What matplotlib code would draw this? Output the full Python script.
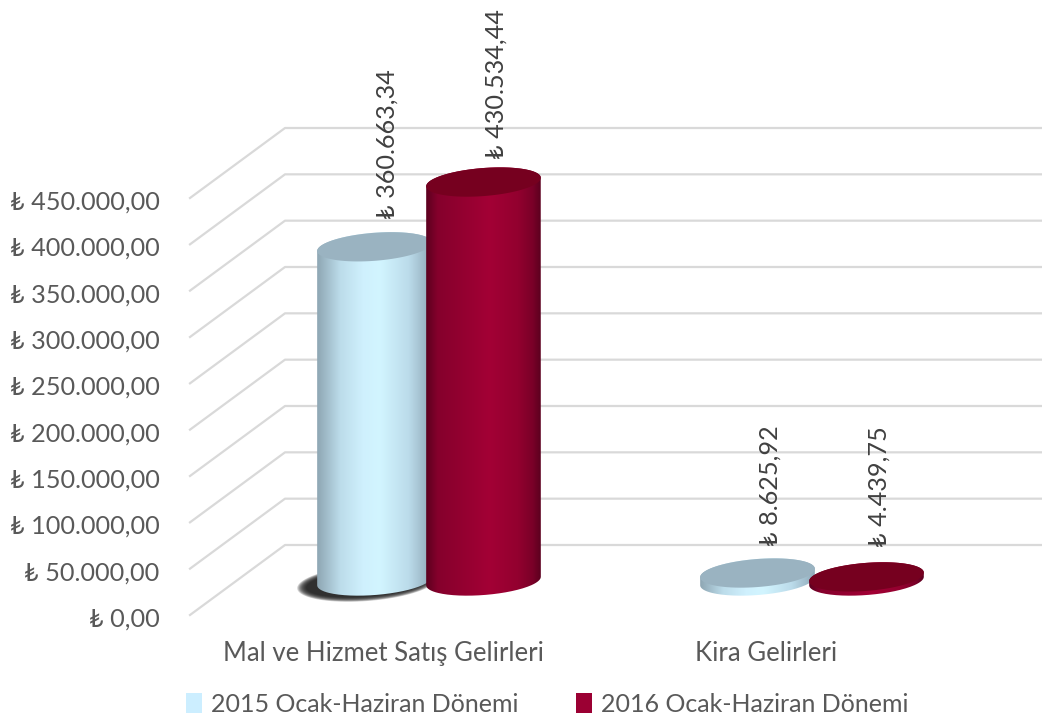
#!/usr/bin/env python3
# -*- coding: utf-8 -*-
import numpy as np
from matplotlib import pyplot as plt
from matplotlib.colors import LinearSegmentedColormap
from matplotlib.patches import Patch, PathPatch
from matplotlib.path import Path
from matplotlib.transforms import ScaledTranslation

plt.rcParams['font.family'] = ['Lato', 'DejaVu Sans']

categories = ['Mal ve Hizmet Satış Gelirleri', 'Kira Gelirleri']
series_names = ['2015 Ocak-Haziran Dönemi', '2016 Ocak-Haziran Dönemi']
values_2015 = [360663.34, 8625.92]
values_2016 = [430534.44, 4439.75]
label_2015 = ['₺ 360.663,34', '₺ 8.625,92']
label_2016 = ['₺ 430.534,44', '₺ 4.439,75']
yticks = [0, 50000, 100000, 150000, 200000, 250000, 300000, 350000, 400000, 450000]
yticklabels = ['₺ 0,00', '₺ 50.000,00', '₺ 100.000,00', '₺ 150.000,00', '₺ 200.000,00',
               '₺ 250.000,00', '₺ 300.000,00', '₺ 350.000,00', '₺ 400.000,00', '₺ 450.000,00']

W, H = 1042, 714
ax_left, ax_base = 165, 615     # pixels
px_per_cat = 383.0
px_per_val = 417.0 / 450000
cat0_px = 383.0

text_col = '#595959'
grid_col = '#D9D9D9'

# 3d look, in pixels
wall_dx, wall_dy = 95, 70
base_dy = 34
half_w, half_h = 57.5, 14.0
tilt = np.deg2rad(4.5)
bar_off = [-8.5, 100.5]
gap_2015 = [28, 27]     # label distance over the bar top
gap_2016 = [23, 30]

cmap_2015 = LinearSegmentedColormap.from_list('c15', [(0, '#8EA6B3'), (0.2, '#BCDCEA'), (0.4, '#CFF0FD'),
                                                      (0.55, '#D2F5FF'), (0.8, '#BBDBEA'), (1, '#8FA9B8')])
cmap_2016 = LinearSegmentedColormap.from_list('c16', [(0, '#5C001F'), (0.1, '#85002C'), (0.55, '#A30035'),
                                                      (0.8, '#93002F'), (0.93, '#7A0028'), (1, '#5C001F')])
top_cols = ['#9AB3C1', '#76001F']
legend_cols = ['#CCEEFF', '#9B0033']

fig = plt.figure(figsize=(W / 100, H / 100), dpi=100)
ax = fig.add_axes([ax_left / W, (H - ax_base) / H, (W - ax_left) / W, ax_base / H])
ax.set_xlim((ax_left - cat0_px) / px_per_cat, (W - cat0_px) / px_per_cat)
ax.set_ylim(0, ax_base / px_per_val)


def ellipse(xc, yc, a, b, t0, t1, rot=tilt):
    # xc in category units, yc in value units, a and b in pixels
    t = np.linspace(t0, t1, 80)
    dx = a * np.cos(t) * np.cos(rot) - b * np.sin(t) * np.sin(rot)
    dy = a * np.cos(t) * np.sin(rot) + b * np.sin(t) * np.cos(rot)
    return xc + dx / px_per_cat, yc + dy / px_per_val


def cylinder(xc, value, cmap, top_col):
    y0 = base_dy / px_per_val
    y1 = y0 + value
    xb, yb = ellipse(xc, y0, half_w, half_h, np.pi, 2 * np.pi)
    xt, yt = ellipse(xc, y1, half_w, half_h, 0, np.pi)
    side = Path(np.column_stack([np.r_[xb, xt], np.r_[yb, yt]]))
    patch = PathPatch(side, fc='none', ec='none', transform=ax.transData)
    ax.add_patch(patch)
    grad = np.linspace(0, 1, 256).reshape(1, -1)
    im = ax.imshow(grad, cmap=cmap, aspect='auto', zorder=3,
                   extent=(xc - half_w / px_per_cat, xc + half_w / px_per_cat, y0 - 20 / px_per_val, y1 + 20 / px_per_val))
    im.set_clip_path(patch)
    xe, ye = ellipse(xc, y1, half_w, half_h, 0, 2 * np.pi)
    ax.fill(xe, ye, color=top_col, lw=0, zorder=3)


# walls and grid lines
for v in yticks:
    xs = [(190 - cat0_px) / px_per_cat, (190 + wall_dx - cat0_px) / px_per_cat, (W - cat0_px) / px_per_cat]
    ys = [v, v + wall_dy / px_per_val, v + wall_dy / px_per_val]
    ax.plot(xs, ys, color=grid_col, lw=1.6, zorder=1, clip_on=False, solid_joinstyle='round')

# shadow under the first bar
for k in range(10):
    xs_, ys_ = ellipse(-16 / px_per_cat, 32 / px_per_val, 70 - k * 1.0, 18 - k * 0.5, 0, 2 * np.pi)
    ax.fill(xs_, ys_, color='#1A1A1A', alpha=0.2, lw=0, zorder=2)

for i in range(len(categories)):
    for off, val, cmap, tc in [(bar_off[0], values_2015[i], cmap_2015, top_cols[0]),
                               (bar_off[1], values_2016[i], cmap_2016, top_cols[1])]:
        cylinder(i + off / px_per_cat, val, cmap, tc)
    for off, val, lab, gap in [(bar_off[0], values_2015[i], label_2015[i], gap_2015[i]),
                               (bar_off[1], values_2016[i], label_2016[i], gap_2016[i])]:
        ax.text(i + (off + 12.5) / px_per_cat, val + (base_dy + gap) / px_per_val, lab, rotation=90,
                ha='center', va='bottom', fontsize=18.2, color='#404040', zorder=4)

ax.set_xticks(range(len(categories)))
ax.set_xticklabels(categories)
ax.set_yticks(yticks)
ax.set_yticklabels(yticklabels)
ax.tick_params(axis='x', length=0, pad=19, labelsize=18.5, labelcolor=text_col)
ax.tick_params(axis='y', length=0, pad=4, labelsize=18.2, labelcolor=text_col)
for lab in ax.get_yticklabels():
    lab.set_transform(lab.get_transform() + ScaledTranslation(0, -2 / 100, fig.dpi_scale_trans))
for s in ax.spines.values():
    s.set_visible(False)
ax.patch.set_visible(False)

handles = [Patch(fc=legend_cols[0], ec='none'), Patch(fc=legend_cols[1], ec='none')]
fig.legend(handles, series_names, loc='center', bbox_to_anchor=(547 / W, 1 - 704 / H), ncol=2, frameon=False,
           fontsize=18, labelcolor=text_col, handlelength=0.65, handleheight=0.9, handletextpad=0.35, columnspacing=2.3)

plt.savefig('out.png', dpi=100)
